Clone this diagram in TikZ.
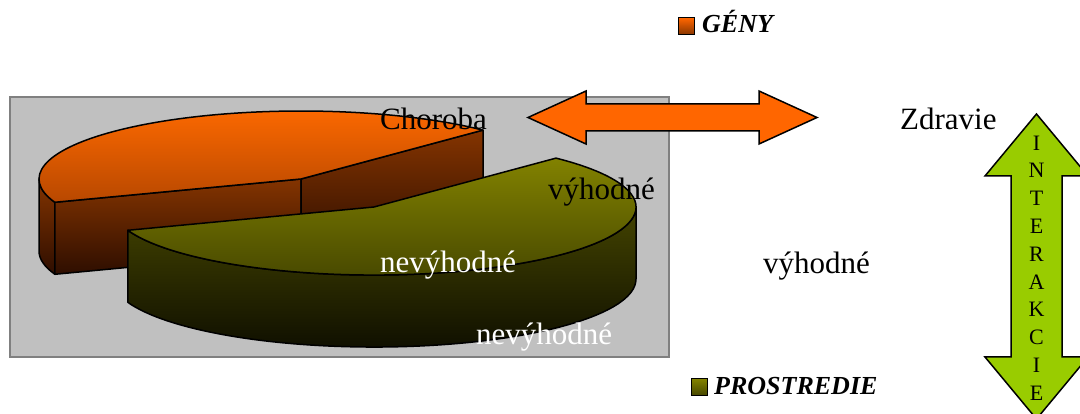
\documentclass[tikz,border=0pt]{standalone}
\usepackage{fontspec}
\setmainfont{Liberation Serif}
\definecolor{boxgray}{HTML}{C0C0C0}
\definecolor{boxedge}{HTML}{808080}
\definecolor{arrorange}{HTML}{FF6600}
\definecolor{arrgreen}{HTML}{99CC00}
\definecolor{ortop}{HTML}{FF6A00}
\definecolor{orbot}{HTML}{B84800}
\definecolor{orsidetop}{HTML}{843400}
\definecolor{orsidebot}{HTML}{2E0E00}
\definecolor{grtop}{HTML}{828200}
\definecolor{grbot}{HTML}{454600}
\definecolor{grsidetop}{HTML}{444400}
\definecolor{grsidebot}{HTML}{101000}
\tikzset{
  pieedge/.style={draw=black, line width=1.5pt, line join=round},
  bigtext/.style={font=\fontsize{31}{36}\selectfont, inner sep=0pt, anchor=base west},
  legtext/.style={font=\fontsize{26}{30}\selectfont\bfseries\itshape, inner sep=0pt, anchor=base west},
  letter/.style={font=\fontsize{22}{26}\selectfont, inner sep=0pt},
  arrowshape/.style={draw=black, line width=1.5pt, line join=miter},
  ell/.style={x radius=262pt, y radius=68pt}
}
\begin{document}
\begin{tikzpicture}[x=1pt,y=1pt]
\useasboundingbox (0,0) rectangle (1080,414);
\clip (0,0) rectangle (1080,414);
% chart area
\node[draw=boxedge, fill=boxgray, line width=2pt, minimum width=659pt, minimum height=260pt, inner sep=0pt, anchor=south west] (chart) at (9,56) {};
% orange slice sides
\shade[pieedge, top color=orsidetop, bottom color=orsidebot]
  (39,235) arc[start angle=180, end angle=200, ell] -- ++(0,-72) arc[start angle=200, end angle=180, ell] -- cycle;
\shade[pieedge, top color=orsidetop, bottom color=orsidebot]
  (54.8,211.7) -- (301,235) -- (301,163) -- (54.8,139.7) -- cycle;
\shade[pieedge, top color=orsidetop, bottom color=orsidebot]
  (301,235) -- (483,283.9) -- (483,211.9) -- (301,163) -- cycle;
% orange top
\shade[pieedge, top color=ortop, bottom color=orbot]
  (301,235) -- (483,283.9) arc[start angle=46, end angle=200, ell] -- cycle;
% green slice side
\shade[pieedge, top color=grsidetop, bottom color=grsidebot]
  (127.8,183.7) arc[start angle=200, end angle=360, ell] -- ++(0,-72) arc[start angle=360, end angle=200, ell] -- cycle;
% green top
\shade[pieedge, top color=grtop, bottom color=grbot]
  (374,207) -- (127.8,183.7) arc[start angle=200, end angle=406, ell] -- cycle;
% labels
\node[bigtext] (choroba) at (380,284) {Choroba};
\node[bigtext] (zdravie) at (900,284) {Zdravie};
\node[bigtext] (vyh1) at (548,214) {výhodné};
\node[bigtext, text=white] (nevyh1) at (380,141) {nevýhodné};
\node[bigtext] (vyh2) at (763,140) {výhodné};
\node[bigtext, text=white] (nevyh2) at (476,69) {nevýhodné};
% horizontal double arrow
\filldraw[arrowshape, fill=arrorange]
  (528,296.5) -- (586,323) -- (586,310) -- (759,310) -- (759,323) -- (817,296.5)
  -- (759,270) -- (759,283) -- (586,283) -- (586,270) -- cycle;
% vertical double arrow
\filldraw[arrowshape, fill=arrgreen]
  (1036.5,300) -- (1088,238) -- (1062,238) -- (1062,57) -- (1088,57) -- (1036.5,-5)
  -- (985,57) -- (1011,57) -- (1011,238) -- (985,238) -- cycle;
\foreach \ch [count=\i from 0] in {I,N,T,E,R,A,K,C,I,E}{
  \node[letter] (let\i) at (1036.5,{414-143-27.8*\i}) {\ch};
}
% legend
\shade[draw=black, line width=1pt, top color=arrorange, bottom color=orsidetop] (678,379) rectangle (694,396);
\node[legtext] (geny) at (702,381) {GÉNY};
\shade[draw=black, line width=1pt, top color=grtop, bottom color=grsidetop] (691,18) rectangle (707,35);
\node[legtext] (prostredie) at (714,19) {PROSTREDIE};
\end{tikzpicture}
\end{document}
